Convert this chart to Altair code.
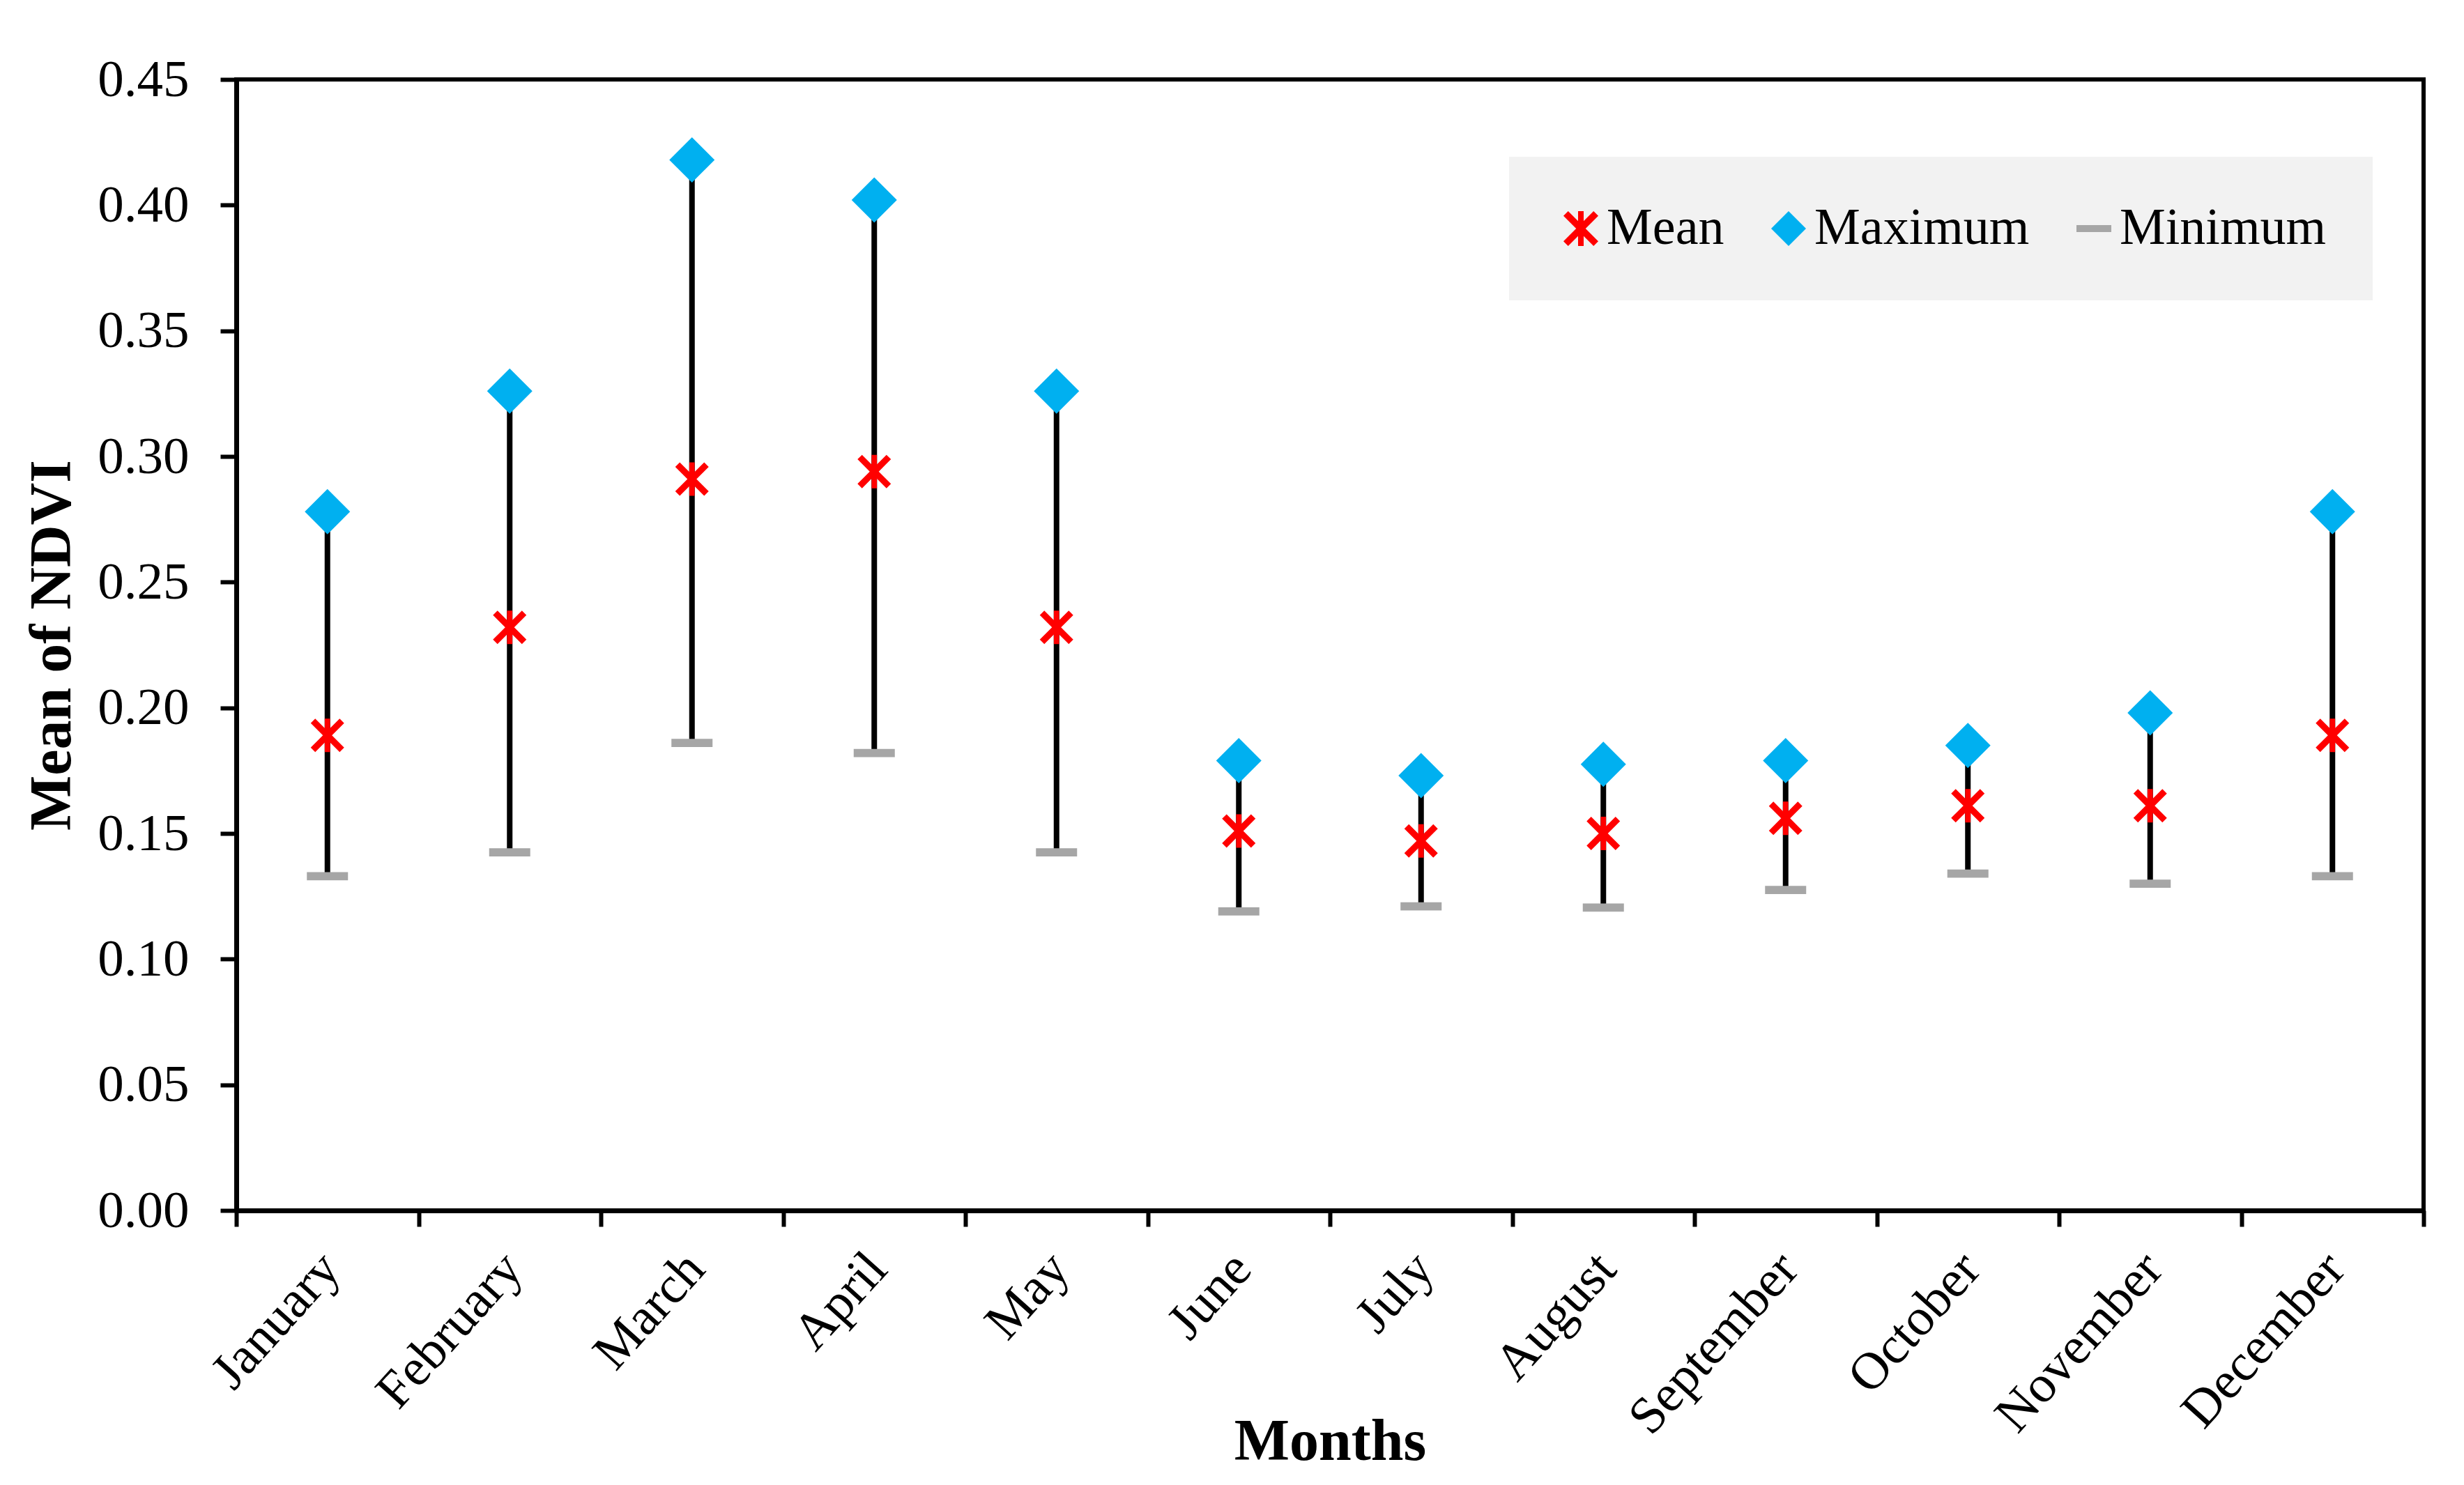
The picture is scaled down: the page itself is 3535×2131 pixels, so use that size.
import altair as alt
import pandas as pd

months = ["January", "February", "March", "April", "May", "June", "July",
          "August", "September", "October", "November", "December"]
mean_vals = [0.189, 0.232, 0.291, 0.294, 0.232, 0.151, 0.147, 0.150, 0.156, 0.161, 0.161, 0.189]
max_vals = [0.278, 0.326, 0.418, 0.402, 0.326, 0.179, 0.173, 0.1775, 0.179, 0.185, 0.198, 0.278]
min_vals = [0.133, 0.1425, 0.186, 0.182, 0.1425, 0.119, 0.121, 0.1205, 0.1275, 0.134, 0.130, 0.133]
y_ticks = [0.00, 0.05, 0.10, 0.15, 0.20, 0.25, 0.30, 0.35, 0.40, 0.45]
series = ["Mean", "Maximum", "Minimum"]
series_colors = ["#FF0000", "#00B0F0", "#A6A6A6"]

df = pd.DataFrame({"month": months, "mean": mean_vals, "max": max_vals, "min": min_vals})

# marker shapes (style)
c = 0.27
b = 0.16
x_path = (f"M0,{-c}L{1-c},-1L1,{-1+c}L{c},0L1,{1-c}L{1-c},1L0,{c}L{-1+c},1L-1,{1-c}"
          f"L{-c},0L-1,{-1+c}L{-1+c},-1Z M{-b},-1L{b},-1L{b},1L{-b},1Z")
dash_path = "M-1,-0.2L1,-0.2L1,0.2L-1,0.2Z"
shape_range = [x_path, "diamond", dash_path]

FONT = "Liberation Serif"

x_enc = alt.X(
    "month:N", sort=months,
    scale=alt.Scale(type="band", paddingInner=0, paddingOuter=0),
    axis=alt.Axis(
        title="Months", tickBand="extent", labelAngle=-48, labelAlign="right",
        labelBaseline="middle", labelPadding=48, labelOffset=4, tickSize=23,
        tickWidth=6, tickColor="black", domainWidth=7, domainColor="black",
        labelFontSize=75, labelFont=FONT, labelColor="black", labelLimit=0,
        titleFont=FONT, titleFontSize=84, titleFontWeight="bold", titleColor="black",
        titleX=1569, titleY=357, titleBaseline="alphabetic", titleAlign="center",
        grid=False,
    ),
)

y_scale = alt.Scale(domain=[0, 0.45], nice=False, zero=True)
y_axis = alt.Axis(
    title="Mean of NDVI", values=y_ticks, format=".2f", tickSize=23, tickWidth=6,
    tickColor="black", domainWidth=7, domainColor="black", labelFontSize=75,
    labelFont=FONT, labelColor="black", labelPadding=45, labelLimit=0,
    titleFont=FONT, titleFontSize=84, titleFontWeight="bold", titleColor="black",
    titleX=-239, titleY=811.5, titleAngle=270, titleBaseline="alphabetic",
    titleAlign="center", grid=False,
)


def y_enc(field):
    return alt.Y(f"{field}:Q", scale=y_scale, axis=y_axis)


color_scale = alt.Scale(domain=series, range=series_colors)
shape_scale = alt.Scale(domain=series, range=shape_range)
leg = alt.Legend(
    title=None, orient="none", legendX=1826, legendY=111, direction="horizontal",
    fillColor="#F2F2F2", padding=66, columnPadding=55, labelOffset=0,
    symbolSize=2500, symbolStrokeWidth=0, labelFont=FONT, labelFontSize=74,
    labelColor="black", labelLimit=0,
)

rules = alt.Chart(df).mark_rule(color="black", strokeWidth=8).encode(
    x=x_enc, y=y_enc("min"), y2="max:Q"
)


def points(field, name, size):
    return alt.Chart(df).transform_calculate(
        series=f"'{name}'"
    ).mark_point(filled=True, size=size, opacity=1, strokeWidth=0).encode(
        x=x_enc,
        y=y_enc(field),
        color=alt.Color("series:N", scale=color_scale, legend=leg),
        shape=alt.Shape("series:N", scale=shape_scale, legend=leg),
    )


chart = alt.layer(
    rules,
    points("min", "Minimum", 3481),
    points("max", "Maximum", 4225),
    points("mean", "Mean", 2304),
).properties(
    width=3138, height=1623,
    autosize=alt.AutoSizeParams(type="none"),
    padding={"left": 331, "top": 106, "right": 50, "bottom": 386},
    background="white",
).configure_view(
    stroke="black", strokeWidth=6
)

chart.save("out.html", embed_options={"renderer": "svg", "actions": False})
